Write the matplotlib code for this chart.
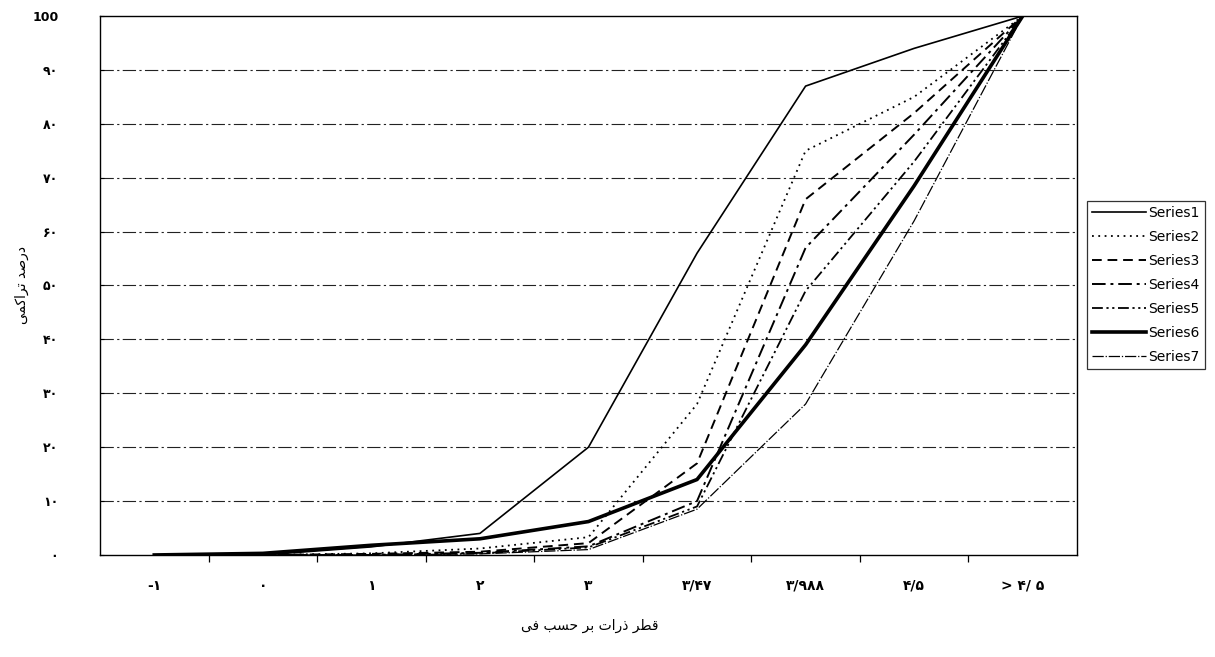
import numpy as np
import matplotlib
matplotlib.use('Agg')
import matplotlib.pyplot as plt
from matplotlib.ticker import FixedLocator

# Data (cumulative percent per phi class)
categories = ['-۱', '۰', '۱', '۲', '۳', '۳/۴۷', '۳/۹۸۸', '۴/۵', '> ۴/ ۵']
series1 = [0, 0, 1.5, 4, 20, 56, 87, 94, 100]
series2 = [0, 0, 0.3, 1.2, 3.3, 28, 75, 85, 100]
series3 = [0, 0, 0.2, 0.6, 2.2, 17, 66, 82, 100]
series4 = [0, 0, 0, 0.4, 1.6, 10, 57, 78, 100]
series5 = [0, 0, 0, 0.3, 1.4, 9, 49, 73, 100]
series6 = [0, 0.3, 1.8, 3, 6.2, 14, 39, 68.5, 100]
series7 = [0, 0, 0, 0.2, 1, 8.5, 28, 62, 100]
series_names = ['Series1', 'Series2', 'Series3', 'Series4', 'Series5', 'Series6', 'Series7']
y_ticks = [0, 10, 20, 30, 40, 50, 60, 70, 80, 90, 100]
y_labels = ['۰', '۱۰', '۲۰', '۳۰', '۴۰', '۵۰', '۶۰', '۷۰', '۸۰', '۹۰', '100']
x_title = 'قطر ذرات بر حسب فی'
y_title = 'درصد تراکمی'

# matplotlib does no Arabic shaping, so do it by hand:
# isolated, final, initial, medial presentation forms
FORMS = {
    'ا': (0xFE8D, 0xFE8E, None, None),
    'ب': (0xFE8F, 0xFE90, 0xFE91, 0xFE92),
    'ت': (0xFE95, 0xFE96, 0xFE97, 0xFE98),
    'ح': (0xFEA1, 0xFEA2, 0xFEA3, 0xFEA4),
    'د': (0xFEA9, 0xFEAA, None, None),
    'ذ': (0xFEAB, 0xFEAC, None, None),
    'ر': (0xFEAD, 0xFEAE, None, None),
    'س': (0xFEB1, 0xFEB2, 0xFEB3, 0xFEB4),
    'ص': (0xFEB9, 0xFEBA, 0xFEBB, 0xFEBC),
    'ط': (0xFEC1, 0xFEC2, 0xFEC3, 0xFEC4),
    'ف': (0xFED1, 0xFED2, 0xFED3, 0xFED4),
    'ق': (0xFED5, 0xFED6, 0xFED7, 0xFED8),
    'ک': (0xFB8E, 0xFB8F, 0xFB90, 0xFB91),
    'م': (0xFEE1, 0xFEE2, 0xFEE3, 0xFEE4),
    'ی': (0xFBFC, 0xFBFD, 0xFBFE, 0xFBFF),
}


def shape(text):
    out = []
    for i, ch in enumerate(text):
        if ch not in FORMS:
            out.append(ch)
            continue
        prev = text[i - 1] if i > 0 else ''
        nxt = text[i + 1] if i + 1 < len(text) else ''
        dual = FORMS[ch][2] is not None
        join_prev = prev in FORMS and FORMS[prev][2] is not None
        join_next = dual and nxt in FORMS
        if join_prev and join_next:
            code = FORMS[ch][3]
        elif join_prev:
            code = FORMS[ch][1]
        elif join_next:
            code = FORMS[ch][2]
        else:
            code = FORMS[ch][0]
        out.append(chr(code))
    return ''.join(reversed(out))


plt.rcParams['font.family'] = ['DejaVu Sans']

fig = plt.figure(figsize=(12.15, 6.57), dpi=100)
ax = fig.add_axes([0.0823, 0.1553, 0.8041, 0.8203])

x = np.arange(len(categories))
all_series = [series1, series2, series3, series4, series5, series6, series7]
styles = [
    dict(ls='-', lw=1.2),
    dict(ls=(0, (1, 2.5)), lw=1.3),
    dict(ls=(0, (5, 3)), lw=1.4),
    dict(ls=(0, (7, 2.5, 1.5, 2.5)), lw=1.4),
    dict(ls=(0, (6, 2, 1.2, 2, 1.2, 2)), lw=1.3),
    dict(ls='-', lw=2.6),
    dict(ls=(0, (9, 1.5, 1, 1.5)), lw=0.9),
]
for vals, name, st in zip(all_series, series_names, styles):
    ax.plot(x, vals, color='black', label=name, **st)

ax.set_xlim(-0.5, len(categories) - 0.5)
ax.set_ylim(0, 100)

ax.set_xticks(x)
ax.set_xticklabels(categories, fontsize=10, fontweight='bold')
ax.xaxis.set_minor_locator(FixedLocator(np.arange(0.5, len(categories) - 0.5, 1)))
ax.tick_params(axis='x', which='major', length=0, pad=17)
ax.tick_params(axis='x', which='minor', length=5, width=0.9, direction='out')

ax.set_yticks(y_ticks)
ax.set_yticklabels(y_labels, fontsize=9, fontweight='bold')
ax.tick_params(axis='y', length=3, width=0.8, direction='in', pad=30)

for v in y_ticks[1:-1]:
    ax.axhline(v, color='#222222', lw=0.8, ls=(0, (12, 3, 2, 3)), zorder=0)

for s in ax.spines.values():
    s.set_linewidth(1.0)
    s.set_color('black')

fig.text(0.485, 0.048, shape(x_title), ha='center', va='center', fontsize=10)
fig.text(0.018, 0.566, shape(y_title), ha='center', va='center', rotation=90, fontsize=10)

leg = fig.legend(loc='center left', bbox_to_anchor=(0.895, 0.566), fontsize=10,
                 handlelength=3.9, handletextpad=0.15, labelspacing=0.72,
                 borderpad=0.35, borderaxespad=0, frameon=True, fancybox=False)
leg.get_frame().set_edgecolor('black')
leg.get_frame().set_linewidth(0.9)

fig.savefig('out.png', dpi=100)
